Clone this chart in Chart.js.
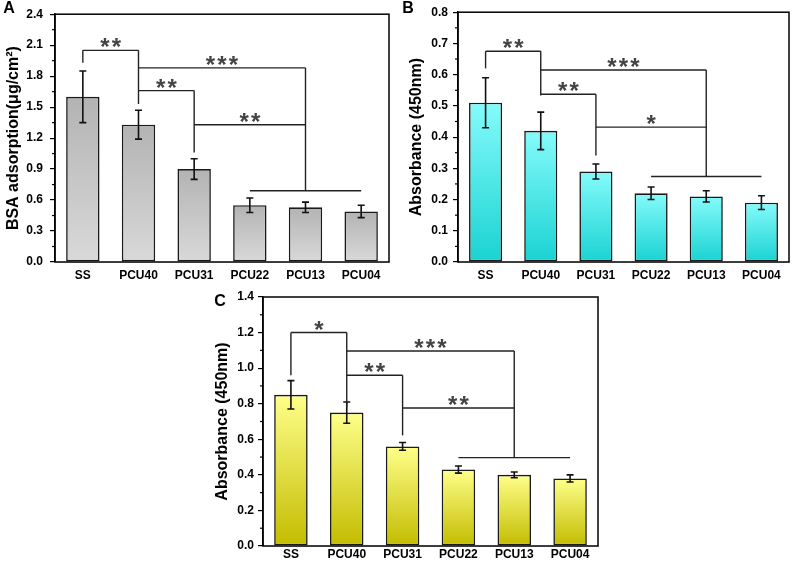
<!DOCTYPE html>
<html>
<head>
<meta charset="utf-8">
<script src="https://cdn.jsdelivr.net/npm/chart.js@4.4.0/dist/chart.umd.min.js"></script>
<style>
body { margin: 0; background: #fff; width: 800px; height: 563px; position: relative; overflow: hidden; }
canvas { position: absolute; }
</style>
</head>
<body>
<canvas id="chart-a" width="400" height="290" style="left:0;top:0"></canvas>
<canvas id="chart-b" width="400" height="290" style="left:400px;top:0"></canvas>
<canvas id="chart-c" width="440" height="283" style="left:180px;top:280px"></canvas>
<script>
const samples = ['SS', 'PCU40', 'PCU31', 'PCU22', 'PCU13', 'PCU04'];

// panel A - BSA adsorption
const bsaMean = [1.60, 1.33, 0.90, 0.55, 0.53, 0.49];
const bsaErr = [0.25, 0.14, 0.10, 0.07, 0.05, 0.06];
// significance lines: [fromIndex, toIndex, y, stars] and drops [index, yLow, yHigh]
const bsaSig = [[0, 1, 2.05, '**'], [1, 4, 1.88, '***'], [1, 2, 1.66, '**'], [2, 4, 1.33, '**'], [3, 5, 0.69, '']];
const bsaDrops = [[0, 1.93, 2.05], [1, 1.53, 2.05], [2, 1.06, 1.66], [4, 0.69, 1.88]];

// panel B
const absBMean = [0.51, 0.42, 0.29, 0.22, 0.21, 0.19];
const absBErr = [0.08, 0.06, 0.024, 0.02, 0.018, 0.022];
const absBSig = [[0, 1, 0.675, '**'], [1, 4, 0.615, '***'], [1, 2, 0.537, '**'], [2, 4, 0.432, '*'], [3, 5, 0.274, '']];
const absBDrops = [[0, 0.62, 0.675], [1, 0.533, 0.675], [2, 0.341, 0.537], [4, 0.274, 0.615]];

// panel C
const absCMean = [0.85, 0.75, 0.56, 0.43, 0.40, 0.38];
const absCErr = [0.08, 0.06, 0.022, 0.02, 0.016, 0.02];
const absCSig = [[0, 1, 1.2, '*'], [1, 4, 1.096, '***'], [1, 2, 0.96, '**'], [2, 4, 0.776, '**'], [3, 5, 0.497, '']];
const absCDrops = [[0, 0.96, 1.2], [1, 0.78, 1.2], [2, 0.622, 0.96], [4, 0.497, 1.096]];

const family = "'Liberation Sans', Arial, sans-serif";

function barFill(c, colors) {
    const y = c.chart.scales.y;
    if (!y || c.raw === undefined) return colors[0];
    const top = y.getPixelForValue(c.raw), bottom = y.getPixelForValue(0);
    if (!isFinite(top) || !isFinite(bottom) || top === bottom) return colors[0];
    const g = c.chart.ctx.createLinearGradient(0, top, 0, bottom);
    g.addColorStop(0, colors[0]);
    g.addColorStop(1, colors[1]);
    return g;
}

function decor(o) {
    return {
        id: 'decor',
        afterDatasetsDraw(chart) {
            const ctx = chart.ctx;
            const area = chart.chartArea;
            const x = chart.scales.x, y = chart.scales.y;
            ctx.save();
            ctx.strokeStyle = '#000';
            ctx.lineWidth = 1.5;
            ctx.strokeRect(area.left, area.top, area.right - area.left, area.bottom - area.top);

            // minor ticks
            ctx.lineWidth = 1.2;
            const t = y.ticks;
            for (let i = 0; i < t.length - 1; i++) {
                const py = y.getPixelForValue((t[i].value + t[i + 1].value) / 2);
                ctx.beginPath();
                ctx.moveTo(area.left - 3, py);
                ctx.lineTo(area.left, py);
                ctx.stroke();
            }

            // error bars
            ctx.strokeStyle = '#111';
            ctx.lineWidth = 1.6;
            chart.getDatasetMeta(0).data.forEach((bar, i) => {
                const hi = y.getPixelForValue(o.mean[i] + o.err[i]);
                const lo = y.getPixelForValue(o.mean[i] - o.err[i]);
                ctx.beginPath();
                ctx.moveTo(bar.x, hi); ctx.lineTo(bar.x, lo);
                ctx.moveTo(bar.x - 3.5, hi); ctx.lineTo(bar.x + 3.5, hi);
                ctx.moveTo(bar.x - 3.5, lo); ctx.lineTo(bar.x + 3.5, lo);
                ctx.stroke();
            });

            // significance brackets
            ctx.strokeStyle = '#222';
            ctx.lineWidth = 1.4;
            o.sig.forEach(s => {
                const x1 = x.getPixelForValue(s[0]), x2 = x.getPixelForValue(s[1]);
                const py = y.getPixelForValue(s[2]);
                ctx.beginPath();
                ctx.moveTo(x1, py); ctx.lineTo(x2, py);
                ctx.stroke();
                const n = s[3].length;
                ctx.fillStyle = '#444';
                ctx.font = 'bold 24px ' + family;
                ctx.textAlign = 'center';
                ctx.textBaseline = 'alphabetic';
                const mid = (x1 + x2) / 2;
                for (let k = 0; k < n; k++) {
                    ctx.fillText('*', mid + (k - (n - 1) / 2) * 11.5, py + 5);
                }
            });
            o.drops.forEach(d => {
                const px = x.getPixelForValue(d[0]);
                ctx.beginPath();
                ctx.moveTo(px, y.getPixelForValue(d[1]));
                ctx.lineTo(px, y.getPixelForValue(d[2]));
                ctx.stroke();
            });

            // panel letter
            ctx.fillStyle = '#000';
            ctx.font = 'bold 16px ' + family;
            ctx.textAlign = 'center';
            ctx.textBaseline = 'middle';
            ctx.fillText(o.letter, o.letterPos[0], o.letterPos[1]);
            ctx.restore();
        }
    };
}

function panel(id, o) {
    return new Chart(document.getElementById(id).getContext('2d'), {
        type: 'bar',
        data: {
            labels: samples,
            datasets: [{
                data: o.mean,
                backgroundColor: c => barFill(c, o.colors),
                borderColor: '#1a1a1a',
                borderWidth: 1.6,
                borderSkipped: false,
                barPercentage: 0.6,
                categoryPercentage: 1
            }]
        },
        options: {
            responsive: false,
            animation: false,
            layout: { padding: { left: 0, top: o.box.top, right: o.box.right, bottom: 0 } },
            plugins: { legend: { display: false }, tooltip: { enabled: false } },
            scales: {
                x: {
                    grid: { display: false, drawTicks: false },
                    ticks: { color: '#000', font: { family: family, size: 12, weight: 'bold' }, padding: o.xPad, maxRotation: 0 },
                    afterFit: s => { s.height = o.box.xh; }
                },
                y: {
                    min: 0,
                    max: o.max,
                    ticks: {
                        stepSize: o.step,
                        color: '#000',
                        font: { family: family, size: 12, weight: 'bold' },
                        padding: o.yPad,
                        callback: v => v.toFixed(1)
                    },
                    grid: { drawOnChartArea: false, color: '#000', tickLength: 5, lineWidth: 1.2 },
                    border: { color: '#000', width: 1.5 },
                    title: {
                        display: true,
                        text: o.title,
                        color: '#000',
                        font: { family: family, size: 16, weight: 'bold' },
                        padding: { top: o.titlePad, bottom: 0 }
                    },
                    afterFit: s => { s.width = o.box.yw; }
                }
            }
        },
        plugins: [decor(o)]
    });
}

panel('chart-a', {
    mean: bsaMean, err: bsaErr, sig: bsaSig, drops: bsaDrops,
    max: 2.4, step: 0.3, title: 'BSA adsorption(\u03bcg/cm\u00b2)',
    colors: ['#b3b3b3', '#d9d9d9'],
    box: { top: 13, right: 11, yw: 55, xh: 28 }, xPad: 6, yPad: 7, titlePad: 4,
    letter: 'A', letterPos: [9, 9]
});

panel('chart-b', {
    mean: absBMean, err: absBErr, sig: absBSig, drops: absBDrops,
    max: 0.8, step: 0.1, title: 'Absorbance (450nm)',
    colors: ['#85fbfb', '#1ad2d2'],
    box: { top: 12, right: 11, yw: 58, xh: 28 }, xPad: 6, yPad: 5, titlePad: 7,
    letter: 'B', letterPos: [8, 9]
});

panel('chart-c', {
    mean: absCMean, err: absCErr, sig: absCSig, drops: absCDrops,
    max: 1.4, step: 0.2, title: 'Absorbance (450nm)',
    colors: ['#ffff8a', '#c3bc00'],
    box: { top: 17, right: 22, yw: 83, xh: 17 }, xPad: 1, yPad: 4, titlePad: 33,
    letter: 'C', letterPos: [40, 22]
});
</script>
</body>
</html>
